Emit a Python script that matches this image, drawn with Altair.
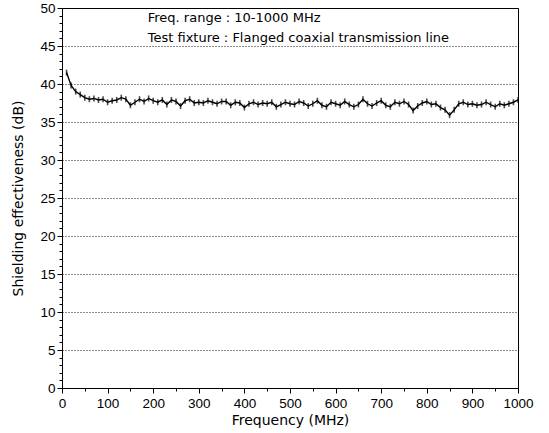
import altair as alt
import pandas as pd

freq = list(range(10, 1001, 10))
se = [41.5, 39.8, 39.0, 38.6, 38.2, 38.0, 38.1, 37.9, 38.0, 37.6,
      37.8, 37.9, 38.2, 38.0, 37.2, 37.6, 38.0, 37.7, 38.1, 37.8,
      37.6, 37.9, 37.3, 37.9, 37.7, 37.1, 37.8, 38.0, 37.5, 37.6,
      37.5, 37.8, 37.6, 37.4, 37.7, 37.7, 37.2, 37.6, 37.5, 36.9,
      37.4, 37.6, 37.3, 37.5, 37.4, 37.6, 37.0, 37.3, 37.6, 37.4,
      37.3, 37.7, 37.5, 37.1, 37.4, 37.8, 37.2, 37.0, 37.6, 37.4,
      37.2, 37.7, 37.3, 37.0, 37.3, 38.0, 37.4, 37.1, 37.5, 37.8,
      37.2, 37.0, 37.6, 37.4, 37.7, 37.3, 36.5, 37.1, 37.5, 37.7,
      37.3, 37.4, 36.9, 36.6, 35.9, 36.6, 37.4, 37.6, 37.3, 37.4,
      37.2, 37.3, 37.6, 37.3, 37.0, 37.4, 37.2, 37.4, 37.6, 37.9]

notes = ["Freq. range : 10-1000 MHz", "Test fixture : Flanged coaxial transmission line"]
note_x = [188, 188]
note_y = [48.7, 46.1]

x_ticks = list(range(0, 1001, 50))
y_ticks = list(range(0, 51, 1))

df = pd.DataFrame({"f": freq, "se": se})
nd = pd.DataFrame({"t": notes, "x": note_x, "y": note_y})

FONT = "Liberation Sans"
TFONT = "DejaVu Sans"

xsc = alt.Scale(domain=[0, 1000], nice=False, zero=False)
ysc = alt.Scale(domain=[0, 50], nice=False, zero=False)

xaxis = alt.Axis(
    title="Frequency (MHz)", values=x_ticks, format="d", tickCount=200,
    labelExpr="datum.value % 100 === 0 ? datum.label : ''",
    tickSize={"condition": {"test": "datum.value % 100 === 0", "value": 5}, "value": 3},
    labelOverlap=False,
    grid=False, domainColor="black", tickColor="black", labelColor="black", titleColor="black",
    labelFontSize=13.5, titleFontSize=14, labelFont=FONT, titleFont=TFONT,
    titleFontWeight="normal", labelPadding=3, titlePadding=4, labelFlush=False,
)
yaxis = alt.Axis(
    title="Shielding effectiveness (dB)", values=y_ticks, format="d", tickCount=200,
    labelExpr="datum.value % 5 === 0 ? datum.label : ''",
    tickSize={"condition": {"test": "datum.value % 5 === 0", "value": 5}, "value": 3},
    labelOverlap=False,
    grid=True, gridColor="black", gridDash=[1, 2], gridWidth=1,
    gridOpacity={"condition": {"test": "datum.value % 5 === 0 && datum.value > 0 && datum.value < 50", "value": 0.9}, "value": 0},
    domainColor="black", tickColor="black", labelColor="black", titleColor="black",
    labelFontSize=13.5, titleFontSize=14, labelFont=FONT, titleFont=TFONT,
    titleFontWeight="normal", labelPadding=2, titlePadding=14,
)

base = alt.Chart(df)
line = base.mark_line(color="black", strokeWidth=1.4).encode(
    x=alt.X("f:Q", scale=xsc, axis=xaxis),
    y=alt.Y("se:Q", scale=ysc, axis=yaxis),
)
ticks = base.mark_tick(color="black", orient="vertical", size=6, thickness=1.6).encode(
    x=alt.X("f:Q", scale=xsc),
    y=alt.Y("se:Q", scale=ysc),
)
text = alt.Chart(nd).mark_text(align="left", baseline="middle", fontSize=13, font=TFONT, color="black").encode(
    x=alt.X("x:Q", scale=xsc),
    y=alt.Y("y:Q", scale=ysc),
    text="t:N",
)

chart = (line + ticks + text).properties(
    width=456, height=380,
    autosize=alt.AutoSizeParams(type="none"),
    padding={"left": 62, "top": 8, "right": 31, "bottom": 45},
    background="white",
).configure_view(stroke="black", strokeWidth=1)

chart.save("out.html", embed_options={"renderer": "svg", "actions": False})
